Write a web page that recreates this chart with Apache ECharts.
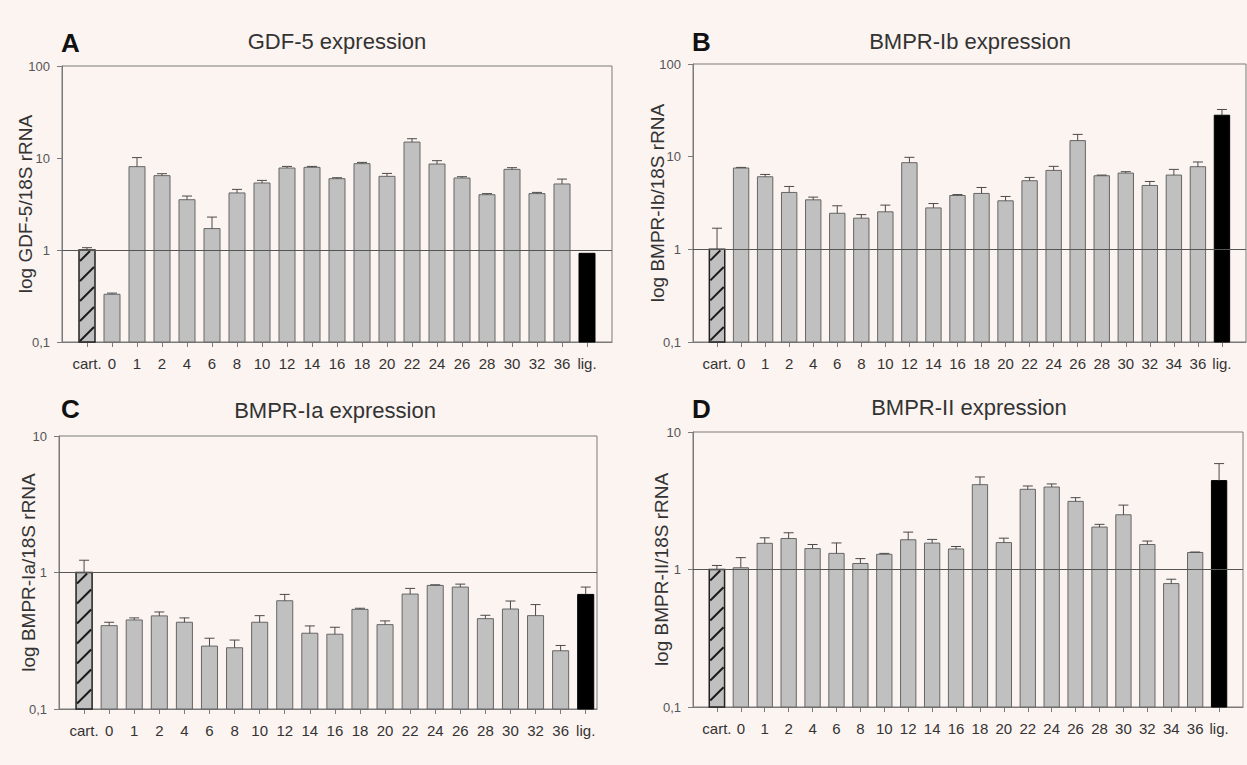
<!DOCTYPE html>
<html>
<head>
<meta charset="utf-8">
<script src="https://cdn.jsdelivr.net/npm/echarts@6/dist/echarts.min.js"></script>
<style>
	html, body { margin: 0; padding: 0; background: #fcf4f1; }
	#chart { width: 1247px; height: 765px; }
</style>
</head>
<body>
<div id="chart"></div>
<script>
// categories (days in culture)
const catsShort = ['cart.', '0', '1', '2', '4', '6', '8', '10', '12', '14', '16', '18', '20', '22', '24', '26', '28', '30', '32', '36', 'lig.']
const catsLong = ['cart.', '0', '1', '2', '4', '6', '8', '10', '12', '14', '16', '18', '20', '22', '24', '26', '28', '30', '32', '34', '36', 'lig.']

// A - GDF-5
const gdf5Values = [1.0, 0.33, 8.05, 6.43, 3.52, 1.71, 4.17, 5.35, 7.78, 7.92, 5.96, 8.68, 6.32, 14.9, 8.6, 6.06, 3.99, 7.53, 4.1, 5.22, 0.92]
const gdf5ErrTop = [1.06, 0.34, 10.1, 6.75, 3.86, 2.28, 4.56, 5.71, 8.1, 8.1, 6.1, 8.96, 6.8, 16.2, 9.35, 6.26, 4.1, 7.85, 4.23, 5.9, null]

// B - BMPR-Ib
const bmpr1bValues = [1.0, 7.54, 6.07, 4.11, 3.42, 2.45, 2.17, 2.54, 8.61, 2.8, 3.81, 4.01, 3.34, 5.5, 7.11, 14.9, 6.22, 6.65, 4.89, 6.33, 7.79, 28.0]
const bmpr1bErrTop = [1.69, 7.66, 6.43, 4.77, 3.66, 2.95, 2.37, 3.0, 9.84, 3.12, 3.9, 4.65, 3.72, 5.97, 7.86, 17.4, 6.33, 6.88, 5.4, 7.29, 8.76, 32.3]

// C - BMPR-Ia
const bmpr1aValues = [1.0, 0.408, 0.449, 0.481, 0.432, 0.289, 0.281, 0.432, 0.621, 0.359, 0.353, 0.537, 0.415, 0.695, 0.804, 0.782, 0.459, 0.54, 0.483, 0.267, 0.691]
const bmpr1aErrTop = [1.23, 0.432, 0.465, 0.514, 0.465, 0.33, 0.32, 0.483, 0.691, 0.406, 0.397, 0.547, 0.442, 0.765, 0.813, 0.822, 0.486, 0.618, 0.582, 0.292, 0.782]

// D - BMPR-II
const bmpr2Values = [1.0, 1.03, 1.55, 1.68, 1.42, 1.31, 1.106, 1.29, 1.645, 1.556, 1.41, 4.14, 1.57, 3.83, 3.98, 3.13, 2.035, 2.5, 1.52, 0.79, 1.33, 4.43]
const bmpr2ErrTop = [1.07, 1.22, 1.7, 1.85, 1.52, 1.56, 1.2, 1.31, 1.87, 1.655, 1.47, 4.71, 1.69, 4.05, 4.19, 3.33, 2.13, 2.94, 1.61, 0.85, 1.34, 5.89]

const FONT = "'Liberation Sans', Arial, sans-serif"
const AXIS_COLOR = '#7a7a7a'

const panels = [
	{ letter: 'A', title: 'GDF-5 expression', yName: 'log GDF-5/18S rRNA', cats: catsShort, values: gdf5Values, errTop: gdf5ErrTop,
		yMax: 100, xMax: 21, grid: { left: 62, top: 66, width: 550, height: 276 }, nameGap: 27,
		letterPos: [61, 44], titlePos: [337, 41] },
	{ letter: 'B', title: 'BMPR-Ib expression', yName: 'log BMPR-Ib/18S rRNA', cats: catsLong, values: bmpr1bValues, errTop: bmpr1bErrTop,
		yMax: 100, xMax: 22, grid: { left: 693, top: 64, width: 553, height: 278 }, nameGap: 26,
		letterPos: [692, 43], titlePos: [970, 41] },
	{ letter: 'C', title: 'BMPR-Ia expression', yName: 'log BMPR-Ia/18S rRNA', cats: catsShort, values: bmpr1aValues, errTop: bmpr1aErrTop,
		yMax: 10, xMax: 20.45, grid: { left: 59, top: 436, width: 538, height: 273 }, nameGap: 21,
		letterPos: [61, 410], titlePos: [335, 410] },
	{ letter: 'D', title: 'BMPR-II expression', yName: 'log BMPR-II/18S rRNA', cats: catsLong, values: bmpr2Values, errTop: bmpr2ErrTop,
		yMax: 10, xMax: 22, grid: { left: 693, top: 432, width: 550, height: 275 }, nameGap: 22,
		letterPos: [692, 410], titlePos: [969, 407] },
]

// hatch lines "/" clipped to a rect
hatchLines = (x0, x1, y0, y1, step) => {
	const w = x1 - x0
	const lines = []
	for (let c = y0 + step / 2; c < y1 + w; c += step) {
		const tA = Math.max(0, c - y1)
		const tB = Math.min(w, c - y0)
		if (tB <= tA) continue
		lines.push({
			type: 'line',
			shape: { x1: x0 + tA, y1: c - tA, x2: x0 + tB, y2: c - tB },
			style: { stroke: '#1a1a1a', lineWidth: 2 },
		})
	}
	return lines
}

barRender = (count) => (params, api) => {
	const i = api.value(0)
	const v = api.value(1)
	const top = api.coord([i, v])
	const left = api.coord([i - 0.32, v])[0]
	const right = api.coord([i + 0.32, v])[0]
	const cs = params.coordSys
	const bottom = cs.y + cs.height
	const rect = {
		type: 'rect',
		shape: { x: left, y: top[1], width: right - left, height: bottom - top[1] },
		style: { fill: '#c0c0c0', stroke: '#666', lineWidth: 1 },
	}
	if (i === count - 1) {
		rect.style = { fill: '#000', stroke: '#000', lineWidth: 1 }
		return rect
	}
	if (i === 0) {
		rect.style = { fill: '#c0c0c0', stroke: '#222', lineWidth: 1.5 }
		return { type: 'group', children: [rect].concat(hatchLines(left + 1, right - 1, top[1] + 1, bottom, 20)) }
	}
	return rect
}

errRender = (params, api) => {
	const p0 = api.coord([api.value(0), api.value(1)])
	const p1 = api.coord([api.value(0), api.value(2)])
	const hw = 5
	const st = { stroke: '#4a4a4a', lineWidth: 1 }
	return {
		type: 'group',
		children: [
			{ type: 'line', shape: { x1: p0[0], y1: p0[1], x2: p1[0], y2: p1[1] }, style: st },
			{ type: 'line', shape: { x1: p1[0] - hw, y1: p1[1], x2: p1[0] + hw, y2: p1[1] }, style: st },
		],
	}
}

const grids = []
const xAxes = []
const yAxes = []
const series = []
const graphics = []

panels.forEach((p, k) => {
	grids.push(Object.assign({ show: true, borderColor: AXIS_COLOR, borderWidth: 1, backgroundColor: 'transparent' }, p.grid))

	const idx = p.cats.map((c, i) => i)
	xAxes.push({
		gridIndex: k,
		type: 'value',
		min: -1,
		max: p.xMax,
		axisLine: { show: true, onZero: false, lineStyle: { color: AXIS_COLOR } },
		axisTick: { show: true, customValues: idx, length: 5, lineStyle: { color: AXIS_COLOR } },
		axisLabel: {
			customValues: idx,
			formatter: (v) => p.cats[Math.round(v)],
			fontSize: 15,
			color: '#333',
			fontFamily: FONT,
			margin: 14,
		},
		splitLine: { show: false },
	})

	yAxes.push({
		gridIndex: k,
		type: 'log',
		logBase: 10,
		min: 0.1,
		max: p.yMax,
		axisLine: { show: true, onZero: false, lineStyle: { color: AXIS_COLOR } },
		axisTick: { show: true, length: 5, lineStyle: { color: AXIS_COLOR } },
		minorTick: { show: false },
		axisLabel: {
			formatter: (v) => (v < 0.5 ? '0,1' : String(Math.round(v))),
			fontSize: 13,
			color: '#555',
			fontFamily: FONT,
			margin: 12,
		},
		splitLine: { show: false },
		name: p.yName,
		nameLocation: 'middle',
		nameGap: p.nameGap,
		nameMoveOverlap: false,
		nameTextStyle: { fontSize: 19, color: '#333', fontFamily: FONT },
	})

	series.push({
		type: 'custom',
		xAxisIndex: k,
		yAxisIndex: k,
		renderItem: barRender(p.cats.length),
		encode: { x: 0, y: 1 },
		data: p.values.map((v, i) => [i, v]),
		silent: true,
		markLine: {
			silent: true,
			symbol: 'none',
			label: { show: false },
			lineStyle: { color: '#555', width: 1, type: 'solid' },
			data: [{ yAxis: 1 }],
		},
		z: 2,
	})

	series.push({
		type: 'custom',
		xAxisIndex: k,
		yAxisIndex: k,
		renderItem: errRender,
		encode: { x: 0, y: [1, 2] },
		data: p.values.map((v, i) => [i, v, p.errTop[i]]).filter((d) => d[2] != null),
		silent: true,
		z: 3,
	})

	graphics.push({
		type: 'text',
		left: p.letterPos[0],
		top: p.letterPos[1] - 14,
		style: { text: p.letter, font: `bold 26px ${FONT}`, fill: '#111' },
	})
	graphics.push({
		type: 'text',
		x: p.titlePos[0],
		y: p.titlePos[1],
		style: { text: p.title, font: `22px ${FONT}`, fill: '#333', align: 'center', verticalAlign: 'middle' },
	})
})

const chart = echarts.init(document.getElementById('chart'), null, { renderer: 'svg' })
chart.setOption({
	backgroundColor: '#fcf4f1',
	animation: false,
	textStyle: { fontFamily: FONT },
	grid: grids,
	xAxis: xAxes,
	yAxis: yAxes,
	series: series,
	graphic: graphics,
})
</script>
</body>
</html>
